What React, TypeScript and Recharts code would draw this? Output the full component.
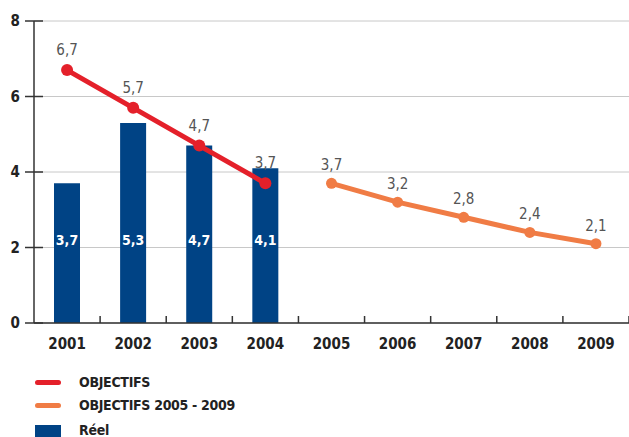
import React from "react";
import {
  Bar,
  CartesianGrid,
  ComposedChart,
  LabelList,
  Line,
  XAxis,
  YAxis,
} from "recharts";

const years = ["2001", "2002", "2003", "2004", "2005", "2006", "2007", "2008", "2009"];
const objectifs = [6.7, 5.7, 4.7, 3.7, null, null, null, null, null];
const objectifs0509 = [null, null, null, null, 3.7, 3.2, 2.8, 2.4, 2.1];
const reel = [3.7, 5.3, 4.7, 4.1, null, null, null, null, null];
const yTicks = [0, 2, 4, 6, 8];

const RED = "#e4202a";
const ORANGE = "#f07c45";
const BLUE = "#004385";
const FONT = "'Liberation Sans Narrow', 'DejaVu Sans Condensed', Arial, sans-serif";
const X_TICK_MARGIN = 14;

const data = years.map((year, i) => ({
  year,
  objectifs: objectifs[i],
  objectifs0509: objectifs0509[i],
  reel: reel[i],
}));

const fmt = (v: any) => (v == null ? "" : String(v).replace(".", ","));

const YTick = ({ x, y, payload }: any) => (
  <g>
    <line x1={x - 9} x2={x + 9} y1={y} y2={y} stroke="#333" strokeWidth={1.5} />
    <text
      x={x - 14}
      y={y}
      dy={5}
      textAnchor="end"
      fontSize={15}
      fontWeight="bold"
      fill="#222"
      fontFamily={FONT}
    >
      {payload.value}
    </text>
  </g>
);

// tick marks sit on the band boundaries and point up into the plot
const XTick = ({ x, y, payload }: any) => {
  const axisY = y - X_TICK_MARGIN;
  const edge = x + (payload.offset || 0);
  return (
    <g>
      <line x1={edge} x2={edge} y1={axisY - 7} y2={axisY} stroke="#333" strokeWidth={1.5} />
      <text
        x={x}
        y={y}
        dy={12}
        textAnchor="middle"
        fontSize={15}
        fontWeight="bold"
        fill="#222"
        fontFamily={FONT}
      >
        {payload.value}
      </text>
    </g>
  );
};

const legendItems = [
  { label: "OBJECTIFS", color: RED, kind: "line" },
  { label: "OBJECTIFS 2005 - 2009", color: ORANGE, kind: "line" },
  { label: "Réel", color: BLUE, kind: "box" },
];

export default function App() {
  return (
    <div style={{ position: "absolute", left: 0, top: 0, width: 629, height: 437, background: "#fff", overflow: "hidden" }}>
      <ComposedChart
        width={629}
        height={437}
        data={data}
        margin={{ top: 21, right: 0, left: 0, bottom: 84 }}
      >
        <CartesianGrid vertical={false} stroke="#c8c8c8" strokeWidth={1} />
        <XAxis
          dataKey="year"
          stroke="#333"
          strokeWidth={1.5}
          tickLine={false}
          tickSize={0}
          tickMargin={X_TICK_MARGIN}
          height={30}
          interval={0}
          tick={<XTick />}
        />
        <YAxis
          domain={[0, 8]}
          ticks={yTicks}
          width={34}
          stroke="#333"
          strokeWidth={1.5}
          tickLine={false}
          tickSize={0}
          tickMargin={0}
          tick={<YTick />}
        />
        <Bar dataKey="reel" fill={BLUE} barSize={26} isAnimationActive={false}>
          <LabelList
            dataKey="reel"
            position="insideBottom"
            offset={78}
            formatter={fmt}
            fill="#fff"
            fontSize={14}
            fontWeight="bold"
            fontFamily={FONT}
          />
        </Bar>
        <Line
          dataKey="objectifs"
          stroke={RED}
          strokeWidth={5}
          dot={{ r: 6, fill: RED, stroke: RED, strokeWidth: 0 }}
          isAnimationActive={false}
          connectNulls={false}
        >
          <LabelList
            dataKey="objectifs"
            position="top"
            offset={15}
            formatter={fmt}
            fill="#555"
            fontSize={15}
            fontFamily={FONT}
          />
        </Line>
        <Line
          dataKey="objectifs0509"
          stroke={ORANGE}
          strokeWidth={5}
          dot={{ r: 5.5, fill: ORANGE, stroke: ORANGE, strokeWidth: 0 }}
          isAnimationActive={false}
          connectNulls={false}
        >
          <LabelList
            dataKey="objectifs0509"
            position="top"
            offset={13}
            formatter={fmt}
            fill="#555"
            fontSize={15}
            fontFamily={FONT}
          />
        </Line>
      </ComposedChart>
      <div style={{ position: "absolute", left: 35, top: 371, fontFamily: FONT }}>
        {legendItems.map((item) => (
          <div
            key={item.label}
            style={{ display: "flex", alignItems: "center", height: 22, marginBottom: 1 }}
          >
            <div style={{ width: 26, display: "flex", alignItems: "center" }}>
              {item.kind === "line" ? (
                <div style={{ width: 26, height: 5, borderRadius: 3, background: item.color }} />
              ) : (
                <div style={{ width: 26, height: 16, marginTop: 10, background: item.color }} />
              )}
            </div>
            <span
              style={{
                marginLeft: 18,
                fontSize: 14,
                fontWeight: "bold",
                color: "#222",
                letterSpacing: -0.3,
                marginTop: item.kind === "box" ? 4 : 0,
              }}
            >
              {item.label}
            </span>
          </div>
        ))}
      </div>
    </div>
  );
}
